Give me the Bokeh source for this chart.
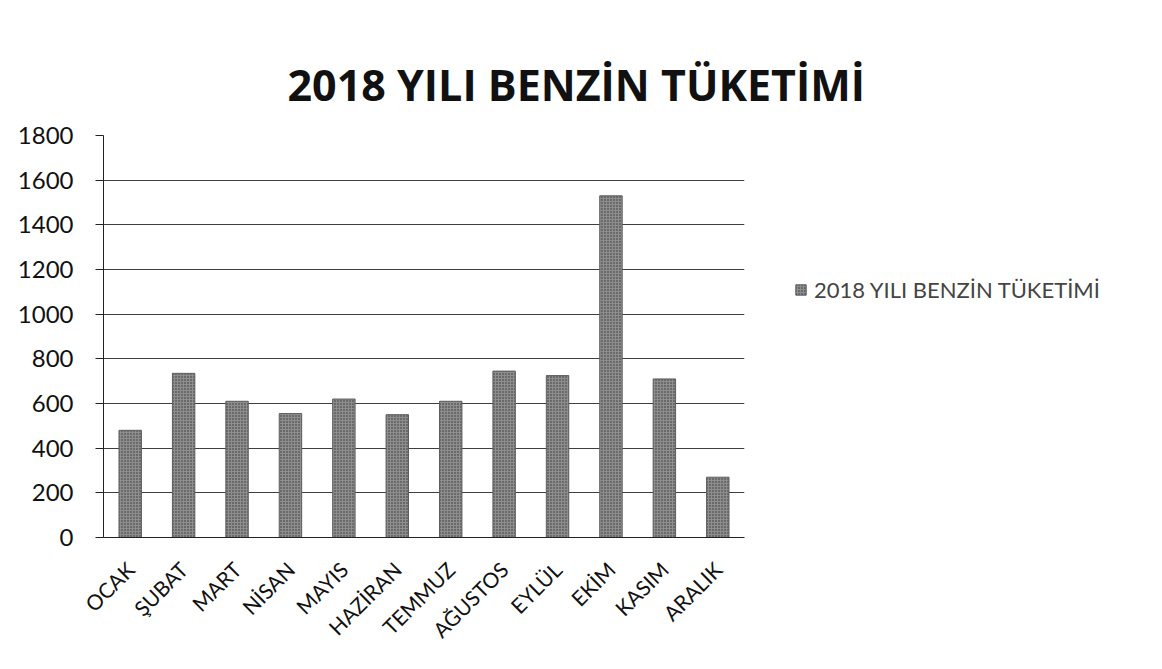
from bokeh.plotting import figure
from bokeh.models import ColumnDataSource, Legend, LegendItem, Title, FixedTicker
from bokeh.embed import file_html
from bokeh.resources import INLINE
from math import pi

months = ["OCAK", "ŞUBAT", "MART", "NİSAN", "MAYIS", "HAZİRAN", "TEMMUZ",
          "AĞUSTOS", "EYLÜL", "EKİM", "KASIM", "ARALIK"]
consumption = [480, 735, 610, 555, 620, 550, 610, 745, 725, 1530, 710, 270]
y_ticks = [0, 200, 400, 600, 800, 1000, 1200, 1400, 1600, 1800]
title_text = "2018 YILI BENZİN TÜKETİMİ"
series_name = "2018 YILI BENZİN TÜKETİMİ"

src = ColumnDataSource(dict(month=months, value=consumption))

p = figure(x_range=months, y_range=(0, 1800), width=1146, height=653,
           output_backend="svg", toolbar_location=None,
           min_border_left=103, min_border_right=402,
           min_border_top=135, min_border_bottom=116)
p.frame_width = 641
p.frame_height = 402

bars = p.vbar(x="month", top="value", width=0.42, source=src,
              fill_color="#8e8e8e", line_color="#5e5e5e", line_width=1,
              hatch_pattern="dot", hatch_color="#333333", hatch_scale=3,
              hatch_weight=1)

p.yaxis.ticker = FixedTicker(ticks=y_ticks)
p.ygrid.grid_line_color = "#2a2a2a"
p.ygrid.grid_line_alpha = 0.9
p.xgrid.grid_line_color = None
p.outline_line_color = None

for ax in (p.xaxis, p.yaxis):
    ax.axis_line_color = "#222222"
    ax.major_label_text_font = "Lato"
    ax.major_label_text_color = "#111111"
    ax.minor_tick_line_color = None

p.yaxis.major_label_text_font_size = "24px"
p.yaxis.major_tick_out = 8
p.yaxis.major_tick_in = 0
p.yaxis.major_tick_line_color = "#222222"
p.yaxis.major_label_standoff = 22

p.xaxis.major_label_text_font_size = "21px"
p.xaxis.major_label_orientation = pi / 4
p.xaxis.major_tick_line_color = None
p.xaxis.major_label_standoff = 22

title = Title(text=title_text, text_font="Open Sans", text_font_style="bold",
              text_font_size="43px", text_color="#111111", align="left",
              offset=184, standoff=44)
p.add_layout(title, "above")

legend = Legend(items=[LegendItem(label=series_name, renderers=[bars])],
                location=(50, 234), border_line_color=None,
                background_fill_alpha=0, label_text_font="Lato",
                label_text_font_size="22px", glyph_width=13, glyph_height=13,
                label_standoff=7)
p.add_layout(legend, "right")

open("out.html", "w").write(file_html(p, INLINE))
